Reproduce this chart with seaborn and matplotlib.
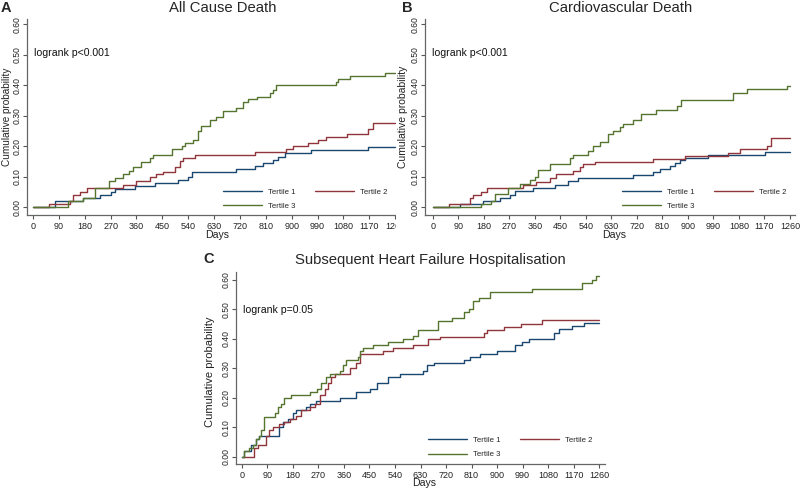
import pandas as pd
import matplotlib.pyplot as plt
from matplotlib.patches import Rectangle
import seaborn as sns

tertiles = ["Tertile 1", "Tertile 2", "Tertile 3"]
colors = ["#1a476f", "#90353b", "#55752f"]
xticks = list(range(0, 1261, 90))
yticks = [0.0, 0.1, 0.2, 0.3, 0.4, 0.5, 0.6]

# A - all cause death
a_t1_days = [0, 75, 174, 232, 273, 285, 354, 424, 505, 540, 552, 708, 772, 800, 836, 853, 876, 969, 1167, 1260]
a_t1_prob = [0, .02, .03, .04, .05, .06, .07, .08, .09, .10, .115, .125, .135, .145, .155, .165, .177, .188, .197, .197]
a_t2_days = [0, 56, 128, 139, 162, 188, 313, 360, 406, 429, 453, 493, 511, 522, 563, 772, 882, 905, 958, 992,
             1021, 1091, 1167, 1184, 1260]
a_t2_prob = [0, .01, .02, .04, .05, .063, .073, .085, .10, .11, .115, .13, .15, .16, .17, .18, .19, .20, .21, .22,
             .23, .24, .255, .275, .275]
a_t3_days = [0, 122, 174, 215, 265, 284, 313, 334, 348, 377, 406, 418, 482, 517, 528, 557, 575, 586, 615, 638,
             662, 708, 731, 749, 778, 824, 836, 847, 1056, 1062, 1103, 1225, 1260]
a_t3_prob = [0, .02, .03, .063, .085, .095, .107, .117, .13, .148, .16, .17, .19, .20, .21, .22, .25, .265, .285, .295,
             .315, .325, .345, .355, .36, .375, .385, .40, .41, .42, .43, .44, .44]

# B - cardiovascular death
b_t1_days = [0, 94, 177, 236, 271, 289, 353, 430, 477, 512, 707, 777, 801, 836, 854, 871, 889, 971, 1172, 1260]
b_t1_prob = [0, .01, .02, .03, .04, .052, .062, .072, .085, .095, .105, .115, .125, .135, .145, .155, .16, .17, .18, .18]
b_t2_days = [0, 57, 130, 141, 171, 191, 318, 365, 412, 436, 495, 518, 530, 571, 777, 889, 1042, 1083, 1178, 1195, 1260]
b_t2_prob = [0, .01, .03, .04, .05, .063, .072, .082, .097, .107, .117, .13, .14, .148, .158, .168, .178, .19, .20,
             .225, .225]
b_t3_days = [0, 171, 206, 218, 265, 306, 341, 359, 371, 412, 483, 495, 548, 565, 589, 618, 636, 659, 671, 707,
             736, 789, 860, 877, 1060, 1107, 1248, 1260]
b_t3_prob = [0, .01, .02, .043, .063, .075, .088, .10, .12, .14, .16, .172, .185, .20, .215, .24, .25, .262, .272, .285,
             .305, .32, .33, .352, .375, .387, .397, .397]

# C - subsequent heart failure hospitalisation
c_t1_days = [0, 8, 32, 50, 61, 132, 144, 162, 180, 191, 227, 239, 262, 345, 404, 451, 475, 516, 557, 640,
             652, 676, 782, 805, 841, 900, 965, 988, 1012, 1101, 1118, 1166, 1207, 1260]
c_t1_prob = [0, .02, .04, .06, .07, .10, .12, .13, .15, .16, .17, .18, .19, .20, .22, .23, .25, .27, .28, .29,
             .31, .32, .33, .34, .35, .36, .38, .39, .40, .42, .435, .445, .455, .455]
c_t2_days = [0, 44, 56, 85, 97, 109, 132, 150, 168, 191, 209, 239, 256, 274, 292, 304, 315, 327, 380, 404,
             416, 498, 534, 605, 658, 699, 853, 864, 924, 983, 1059, 1260]
c_t2_prob = [0, .03, .04, .07, .09, .10, .11, .12, .13, .14, .16, .17, .18, .21, .23, .25, .27, .28, .30, .32,
             .35, .36, .37, .38, .40, .405, .42, .43, .44, .45, .465, .465]
c_t3_days = [0, 8, 26, 38, 50, 61, 67, 79, 115, 126, 138, 150, 174, 239, 265, 280, 298, 309, 345, 357,
             368, 410, 416, 428, 463, 516, 569, 605, 622, 693, 740, 782, 800, 817, 835, 876, 1024, 1201, 1236,
             1248, 1260]
c_t3_prob = [0, .02, .03, .04, .06, .07, .09, .135, .15, .17, .18, .20, .21, .22, .23, .25, .27, .28, .29, .31,
             .33, .34, .36, .37, .38, .39, .40, .41, .43, .46, .47, .49, .50, .53, .54, .56, .57, .59, .60,
             .615, .615]


def build(days_list, prob_list):
    rows = []
    for name, d, p in zip(tertiles, days_list, prob_list):
        for x, y in zip(d, p):
            rows.append((name, x, y))
    return pd.DataFrame(rows, columns=["tertile", "days", "prob"])


sns.set_style("ticks")
plt.rcParams['font.family'] = ['Liberation Sans', 'DejaVu Sans']

fig = plt.figure(figsize=(8, 4.91), dpi=100)
W, H = 800, 491


def px_axes(left, top, right, bottom):
    return fig.add_axes([left / W, (H - bottom) / H, (right - left) / W, (bottom - top) / H])


def km_panel(ax, df, pval, xlim, ylim, leg_x, leg_y, ylab_size, ylab_x, ylab_y, days_y, pv_y):
    sns.lineplot(data=df, x="days", y="prob", hue="tertile", hue_order=tertiles, palette=colors,
                 estimator=None, drawstyle="steps-post", lw=1.0, ax=ax)
    ax.set_xlim(*xlim)
    ax.set_ylim(*ylim)
    ax.set_xticks(xticks)
    ax.set_yticks(yticks)
    ax.set_yticklabels([f"{v:.2f}" for v in yticks], rotation=90, va="center")
    ax.tick_params(labelsize=6.5, colors="#555555", labelcolor="#222222", length=3, width=0.8, pad=2)
    ax.tick_params(axis="y", pad=1.2, labelsize=6.2)
    for s in ["top", "right"]:
        ax.spines[s].set_visible(False)
    for s in ["left", "bottom"]:
        ax.spines[s].set_color("#666666")
        ax.spines[s].set_linewidth(0.9)
    ax.set_xlabel("Days", fontsize=7.6, color="#222222")
    ax.set_ylabel("Cumulative probability", fontsize=ylab_size, color="#222222")
    ax.xaxis.set_label_coords(0.51, days_y)
    ax.yaxis.set_label_coords(ylab_x, ylab_y)
    ax.text(0.018, pv_y, pval, transform=ax.transAxes, fontsize=7.6, va="top", ha="left", color="#111111")
    h, l = ax.get_legend_handles_labels()
    order = [0, 2, 1]
    ax.legend([h[i] for i in order], [l[i] for i in order], ncol=2, frameon=False, fontsize=5.6,
              loc="lower left", bbox_to_anchor=(leg_x, leg_y), borderpad=0, borderaxespad=0,
              handlelength=5.0, handletextpad=0.8, columnspacing=2.5, labelspacing=0.9)


ax_a = px_axes(27, 19, 400, 215)
km_panel(ax_a, build([a_t1_days, a_t2_days, a_t3_days], [a_t1_prob, a_t2_prob, a_t3_prob]),
         "logrank p<0.001", (-21, 1277), (-0.026, 0.617), 0.525, 0.025, 7.2, -0.040, 0.5, -0.075, 0.85)

ax_b = px_axes(425, 19, 795, 215)
km_panel(ax_b, build([b_t1_days, b_t2_days, b_t3_days], [b_t1_prob, b_t2_prob, b_t3_prob]),
         "logrank p<0.001", (-28, 1278), (-0.026, 0.617), 0.532, 0.025, 7.5, -0.046, 0.5, -0.075, 0.85)

ax_c = px_axes(236, 272, 605, 464)
km_panel(ax_c, build([c_t1_days, c_t2_days, c_t3_days], [c_t1_prob, c_t2_prob, c_t3_prob]),
         "logrank p=0.05", (-21, 1281), (-0.024, 0.627), 0.52, 0.03, 8, -0.056, 0.48, -0.075, 0.83)
ax_c.set_zorder(2)
ax_b.set_zorder(2)

# panel A is cropped on its right side in the original figure
fig.add_artist(Rectangle((395.5 / W, (H - 240) / H), 1, 1, transform=fig.transFigure,
                         facecolor="white", edgecolor="none", zorder=1))

fig.text(223 / W, 1 - 1 / H, "All Cause Death", ha="center", va="top", fontsize=10.7, zorder=3)
fig.text(621 / W, 1 - 1 / H, "Cardiovascular Death", ha="center", va="top", fontsize=10.7, zorder=3)
fig.text(430 / W, 1 - 253 / H, "Subsequent Heart Failure Hospitalisation", ha="center", va="top",
         fontsize=10.7, zorder=3)
fig.text(1 / W, 1 - 1 / H, "A", ha="left", va="top", fontsize=10.5, fontweight="bold", zorder=3)
fig.text(402 / W, 1 - 1 / H, "B", ha="left", va="top", fontsize=10.5, fontweight="bold", zorder=3)
fig.text(203 / W, 1 - 252 / H, "C", ha="left", va="top", fontsize=10.5, fontweight="bold", zorder=3)

fig.savefig("out.png", dpi=100)
